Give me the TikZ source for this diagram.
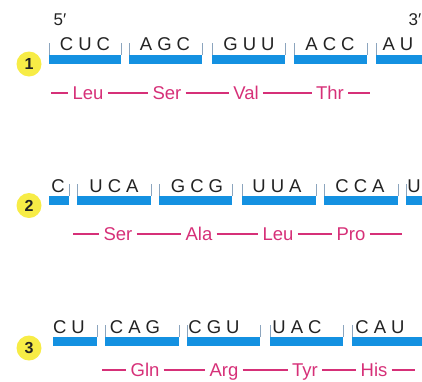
\documentclass[tikz,border=0pt]{standalone}
\usepackage{fontspec}
\setmainfont{Liberation Sans}
\definecolor{barblue}{RGB}{20,145,225}
\definecolor{aapink}{RGB}{214,48,120}
\definecolor{ticcol}{RGB}{140,165,190}
\definecolor{ybg}{RGB}{247,236,70}
\definecolor{txt}{RGB}{35,35,35}
\newlength\lsp \setlength\lsp{5pt}
\newcommand\cdn[3]{#1\kern\lsp#2\kern\lsp#3}
\newcommand\cdtwo[2]{#1\kern\lsp#2}
\begin{document}
\begin{tikzpicture}[x=1pt,y=-1pt,
 bar/.style={fill=barblue, draw=none, inner sep=0pt, minimum height=9pt, anchor=north west},
 tic/.style={draw=ticcol, line width=0.8pt},
 cod/.style={font=\fontsize{18.5}{19}\selectfont, text=txt, inner sep=0pt, anchor=base},
 aa/.style={font=\fontsize{18.5}{20}\selectfont, text=aapink, inner sep=0pt, anchor=base, text height=13pt, text depth=0pt},
 link/.style={draw=aapink, line width=1.3pt},
 badge/.style={circle, fill=ybg, minimum size=25pt, inner sep=0pt, font=\bfseries\fontsize{16}{16}\selectfont, text=txt},
 endlab/.style={font=\fontsize{17}{17}\selectfont, text=txt, inner sep=0pt, anchor=base}]
\useasboundingbox (0,0) rectangle (422,381);
\clip (0,0) rectangle (422,381);

% ---------- row 1 ----------
\node[endlab] (p5) at (60,25) {5′};
\node[endlab] (p3) at (415,25) {3′};
\node[badge] (n1) at (29,64) {1};
\node[bar, minimum width=72pt] (b11) at (49,55) {};
\node[bar, minimum width=73pt] (b12) at (129,55) {};
\node[bar, minimum width=73pt] (b13) at (212,55) {};
\node[bar, minimum width=73pt] (b14) at (294,55) {};
\node[bar, minimum width=60pt] (b15) at (376,55) {};
\foreach \b in {b11,b12,b13,b14}{
  \draw[tic] (\b.north west) -- ++(0,-12);
  \draw[tic] (\b.north east) -- ++(0,-12);}
\draw[tic] (b15.north west) -- ++(0,-12);
\node[cod] (c11) at (85,50) {\cdn CUC};
\node[cod] (c12) at (165,50) {\cdn AGC};
\node[cod] (c13) at (249,50) {\cdn GUU};
\node[cod] (c14) at (330,50) {\cdn ACC};
\node[cod] (c15) at (398,50) {\cdtwo AU};
\node[aa] (a11) at (88,99.5) {Leu};
\node[aa] (a12) at (167,99.5) {Ser};
\node[aa] (a13) at (246,99.5) {Val};
\node[aa] (a14) at (330,99.5) {Thr};
\coordinate (s1) at (51,93);
\coordinate (e1) at (370,93);
\draw[link, shorten >=4pt] (s1) -- (a11.west);
\draw[link, shorten <=4pt, shorten >=4pt] (a11.east) -- (a12.west);
\draw[link, shorten <=4pt, shorten >=4pt] (a12.east) -- (a13.west);
\draw[link, shorten <=4pt, shorten >=4pt] (a13.east) -- (a14.west);
\draw[link, shorten <=4pt] (a14.east) -- (e1);

% ---------- row 2 ----------
\node[badge] (n2) at (29,205.5) {2};
\node[bar, minimum width=20pt] (b21) at (49,196) {};
\node[bar, minimum width=74pt] (b22) at (77,196) {};
\node[bar, minimum width=73pt] (b23) at (159,196) {};
\node[bar, minimum width=74pt] (b24) at (242,196) {};
\node[bar, minimum width=74pt] (b25) at (324,196) {};
\node[bar, minimum width=30pt] (b26) at (406,196) {};
\draw[tic] (b21.north east) -- ++(0,-12);
\foreach \b in {b22,b23,b24,b25}{
  \draw[tic] (\b.north west) -- ++(0,-12);
  \draw[tic] (\b.north east) -- ++(0,-12);}
\draw[tic] (b26.north west) -- ++(0,-12);
\node[cod] (c21) at (58,192) {C};
\node[cod] (c22) at (114,192) {\cdn UCA};
\node[cod] (c23) at (197,192) {\cdn GCG};
\node[cod] (c24) at (277,192) {\cdn UUA};
\node[cod] (c25) at (360,192) {\cdn CCA};
\node[cod] (c26) at (414,192) {U};
\node[aa] (a21) at (118,240.5) {Ser};
\node[aa] (a22) at (199,240.5) {Ala};
\node[aa] (a23) at (278,240.5) {Leu};
\node[aa] (a24) at (351,240.5) {Pro};
\coordinate (s2) at (73,234);
\coordinate (e2) at (402,234);
\draw[link, shorten >=4pt] (s2) -- (a21.west);
\draw[link, shorten <=4pt, shorten >=4pt] (a21.east) -- (a22.west);
\draw[link, shorten <=4pt, shorten >=4pt] (a22.east) -- (a23.west);
\draw[link, shorten <=4pt, shorten >=4pt] (a23.east) -- (a24.west);
\draw[link, shorten <=4pt] (a24.east) -- (e2);

% ---------- row 3 ----------
\node[badge] (n3) at (29,348) {3};
\node[bar, minimum width=44pt] (b31) at (53,337) {};
\node[bar, minimum width=74pt] (b32) at (105,337) {};
\node[bar, minimum width=73pt] (b33) at (187,337) {};
\node[bar, minimum width=73pt] (b34) at (270,337) {};
\node[bar, minimum width=80pt] (b35) at (352,337) {};
\draw[tic] (b31.north east) -- ++(0,-12);
\foreach \b in {b32,b33,b34}{
  \draw[tic] (\b.north west) -- ++(0,-12);
  \draw[tic] (\b.north east) -- ++(0,-12);}
\draw[tic] (b35.north west) -- ++(0,-12);
\node[cod] (c31) at (69,333) {\cdtwo CU};
\node[cod] (c32) at (135,333) {\cdn CAG};
\node[cod] (c33) at (214,333) {\cdn CGU};
\node[cod] (c34) at (297,333) {\cdn UAC};
\node[cod] (c35) at (380,333) {\cdn CAU};
\node[aa] (a31) at (145,376.5) {Gln};
\node[aa] (a32) at (224,376.5) {Arg};
\node[aa] (a33) at (305,376.5) {Tyr};
\node[aa] (a34) at (374,376.5) {His};
\coordinate (s3) at (102,370);
\coordinate (e3) at (415,370);
\draw[link, shorten >=4pt] (s3) -- (a31.west);
\draw[link, shorten <=4pt, shorten >=4pt] (a31.east) -- (a32.west);
\draw[link, shorten <=4pt, shorten >=4pt] (a32.east) -- (a33.west);
\draw[link, shorten <=4pt, shorten >=4pt] (a33.east) -- (a34.west);
\draw[link, shorten <=4pt] (a34.east) -- (e3);
\end{tikzpicture}
\end{document}
